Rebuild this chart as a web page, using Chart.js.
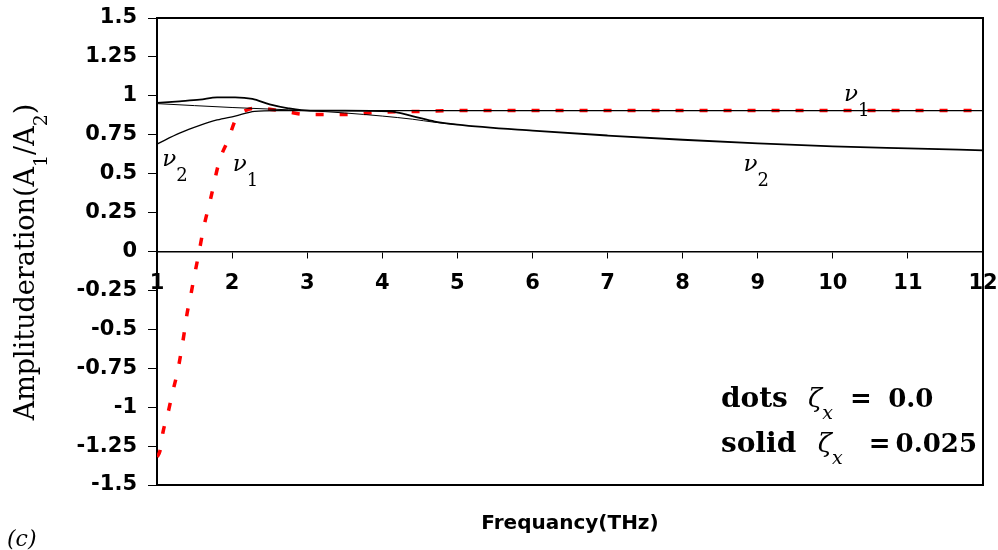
<!DOCTYPE html>
<html>
<head>
<meta charset="utf-8">
<script src="https://cdn.jsdelivr.net/npm/chart.js@4.4.1/dist/chart.umd.min.js"></script>
<style>
  html, body { margin: 0; padding: 0; background: #fff; }
  #wrap { width: 998px; height: 550px; }
</style>
</head>
<body>
<div id="wrap"><canvas id="ampChart" width="998" height="550"></canvas></div>
<script>
// axis ranges / ticks
const xMin = 1, xMax = 12, xStep = 1;
const yMin = -1.5, yMax = 1.5, yStep = 0.25;

// dots, zeta_x = 0.0 (red dashed)
const dotsX = [1.0, 1.04, 1.08, 1.15, 1.21, 1.27, 1.32, 1.36, 1.40, 1.45, 1.50, 1.55, 1.62, 1.71, 1.83, 1.95, 2.05, 2.2, 2.35, 2.7, 3.0, 3.5, 4.0, 4.5, 5, 6, 7, 8, 9, 10, 11, 12];
const dotsY = [-1.32, -1.28, -1.16, -1.03, -0.90, -0.78, -0.65, -0.53, -0.40, -0.28, -0.15, -0.03, 0.15, 0.33, 0.58, 0.72, 0.85, 0.91, 0.92, 0.90, 0.88, 0.88, 0.895, 0.90, 0.905, 0.905, 0.905, 0.905, 0.905, 0.905, 0.905, 0.905];

// solid, zeta_x = 0.025 : v1 branch (starts low, levels off)
const solidV1X = [1, 1.3, 1.57, 1.8, 2.04, 2.3, 2.6, 3, 4, 5, 6, 7, 8, 9, 10, 11, 12];
const solidV1Y = [0.69, 0.76, 0.81, 0.845, 0.87, 0.9, 0.905, 0.905, 0.905, 0.905, 0.905, 0.905, 0.905, 0.905, 0.905, 0.905, 0.905];

// solid, zeta_x = 0.025 : v2 branch with bump
const solidV2X = [1, 1.3, 1.57, 1.8, 2.04, 2.27, 2.5, 2.75, 3.04, 3.5, 4.1, 4.4, 4.7, 5, 6, 7, 8, 9, 10, 11, 12];
const solidV2Y = [0.955, 0.965, 0.975, 0.99, 0.99, 0.98, 0.945, 0.92, 0.905, 0.905, 0.9, 0.87, 0.835, 0.815, 0.776, 0.745, 0.718, 0.695, 0.675, 0.662, 0.65];

// thin nearly straight branch
const thinX = [1, 2, 2.5, 3, 3.5, 4, 4.4, 4.7, 5];
const thinY = [0.95, 0.925, 0.915, 0.905, 0.89, 0.87, 0.85, 0.83, 0.815];

function pts(xs, ys) {
  return xs.map((x, i) => ({ x: x, y: ys[i] }));
}

function drawRich(ctx, x, y, parts) {
  let cx = x;
  parts.forEach(p => {
    ctx.font = p.font;
    ctx.fillText(p.t, cx, y + (p.dy || 0));
    cx += ctx.measureText(p.t).width;
  });
}

function richWidth(ctx, parts) {
  let w = 0;
  parts.forEach(p => { ctx.font = p.font; w += ctx.measureText(p.t).width; });
  return w;
}

const decorPlugin = {
  id: 'decor',
  afterDraw(chart) {
    const ctx = chart.ctx;
    const a = chart.chartArea;
    const xs = chart.scales.x, ys = chart.scales.y;
    ctx.save();
    // frame
    ctx.strokeStyle = '#000';
    ctx.lineWidth = 2;
    ctx.beginPath();
    ctx.moveTo(a.left, a.top);
    ctx.lineTo(a.right, a.top);
    ctx.lineTo(a.right, a.bottom);
    ctx.lineTo(a.left, a.bottom);
    ctx.stroke();

    ctx.fillStyle = '#000';
    ctx.textBaseline = 'alphabetic';
    ctx.textAlign = 'left';

    // curve labels
    const nuIt = 'italic 23px "DejaVu Serif"';
    const sub = '18px "DejaVu Serif"';
    const lbls = [
      { x: 1.07, y: 0.55, n: '2' },
      { x: 2.01, y: 0.52, n: '1' },
      { x: 10.15, y: 0.968, n: '1' },
      { x: 8.81, y: 0.52, n: '2' }
    ];
    lbls.forEach(l => {
      const px = xs.getPixelForValue(l.x), py = ys.getPixelForValue(l.y);
      drawRich(ctx, px, py, [{ t: 'ν', font: nuIt }, { t: l.n, font: sub, dy: 15 }]);
    });

    // zeta annotations, pieces placed along the x scale
    const word = 'bold 28px "DejaVu Serif"';
    const num = 'bold 26px "DejaVu Serif"';
    const zeta = 'italic 26px "DejaVu Serif"';
    const xsub = 'italic 19px "DejaVu Serif"';
    const put = (t, font, xv, yv, dy, align) => {
      ctx.font = font;
      ctx.textAlign = align || 'left';
      ctx.fillText(t, xs.getPixelForValue(xv), ys.getPixelForValue(yv) + (dy || 0));
    };
    put('dots', word, 8.51, -1.0);
    put('ζ', zeta, 9.67, -1.0);
    put('x', xsub, 9.86, -1.0, 12);
    put('=', num, 10.23, -1.0);
    put('0.0', num, 11.34, -1.0, 0, 'right');
    put('solid', word, 8.51, -1.29);
    put('ζ', zeta, 9.80, -1.29);
    put('x', xsub, 9.99, -1.29, 12);
    put('=', num, 10.48, -1.29);
    put('0.025', num, 11.92, -1.29, 0, 'right');

    // x title
    ctx.font = 'bold 20px "DejaVu Sans"';
    ctx.textAlign = 'center';
    ctx.fillText('Frequancy(THz)', (a.left + a.right) / 2, 529);

    // panel tag
    ctx.textAlign = 'left';
    ctx.font = 'italic 22px "DejaVu Serif"';
    ctx.fillText('(c)', 7, 546);

    // y title
    const tf = '27px "DejaVu Serif"';
    const sf = '19px "DejaVu Serif"';
    const parts = [
      { t: 'Amplituderation(A', font: tf }, { t: '1', font: sf, dy: 13 },
      { t: '/A', font: tf }, { t: '2', font: sf, dy: 13 }, { t: ')', font: tf }
    ];
    ctx.translate(34, 262);
    ctx.rotate(-Math.PI / 2);
    drawRich(ctx, -richWidth(ctx, parts) / 2, 0, parts);
    ctx.restore();
  }
};

const tickFont = { family: 'DejaVu Sans', weight: 'bold', size: 21 };

new Chart(document.getElementById('ampChart').getContext('2d'), {
  type: 'line',
  data: {
    datasets: [
      { data: pts(solidV1X, solidV1Y), borderColor: '#000', borderWidth: 1.3 },
      { data: pts(solidV2X, solidV2Y), borderColor: '#000', borderWidth: 1.8 },
      { data: pts(thinX, thinY), borderColor: '#000', borderWidth: 1 },
      { data: pts(dotsX, dotsY), borderColor: '#ff0000', borderWidth: 3.5, borderDash: [8, 16] }
    ]
  },
  options: {
    responsive: false,
    animation: false,
    layout: { padding: { left: 0, top: 18, right: 15, bottom: 65 } },
    plugins: { legend: { display: false }, tooltip: { enabled: false } },
    elements: { point: { radius: 0 }, line: { tension: 0.3, cubicInterpolationMode: 'monotone' } },
    scales: {
      x: {
        type: 'linear',
        position: { y: 0 },
        min: xMin, max: xMax,
        ticks: { stepSize: xStep, color: '#000', font: tickFont, padding: 13, maxRotation: 0, autoSkip: false },
        grid: { drawOnChartArea: false, tickLength: 6, color: '#000', tickColor: '#000' },
        border: { color: '#000', width: 1.5 },
        afterFit(s) { s.paddingLeft = 0; s.paddingRight = 0; }
      },
      y: {
        min: yMin, max: yMax,
        ticks: {
          stepSize: yStep, color: '#000', font: tickFont, padding: 11,
          callback: v => String(Math.round(v * 100) / 100)
        },
        grid: { drawOnChartArea: false, tickLength: 9, color: '#000', tickColor: '#000' },
        border: { color: '#000', width: 2 },
        afterFit(s) { s.width = 157; s.paddingTop = 0; s.paddingBottom = 0; }
      }
    }
  },
  plugins: [decorPlugin]
});
</script>
</body>
</html>
